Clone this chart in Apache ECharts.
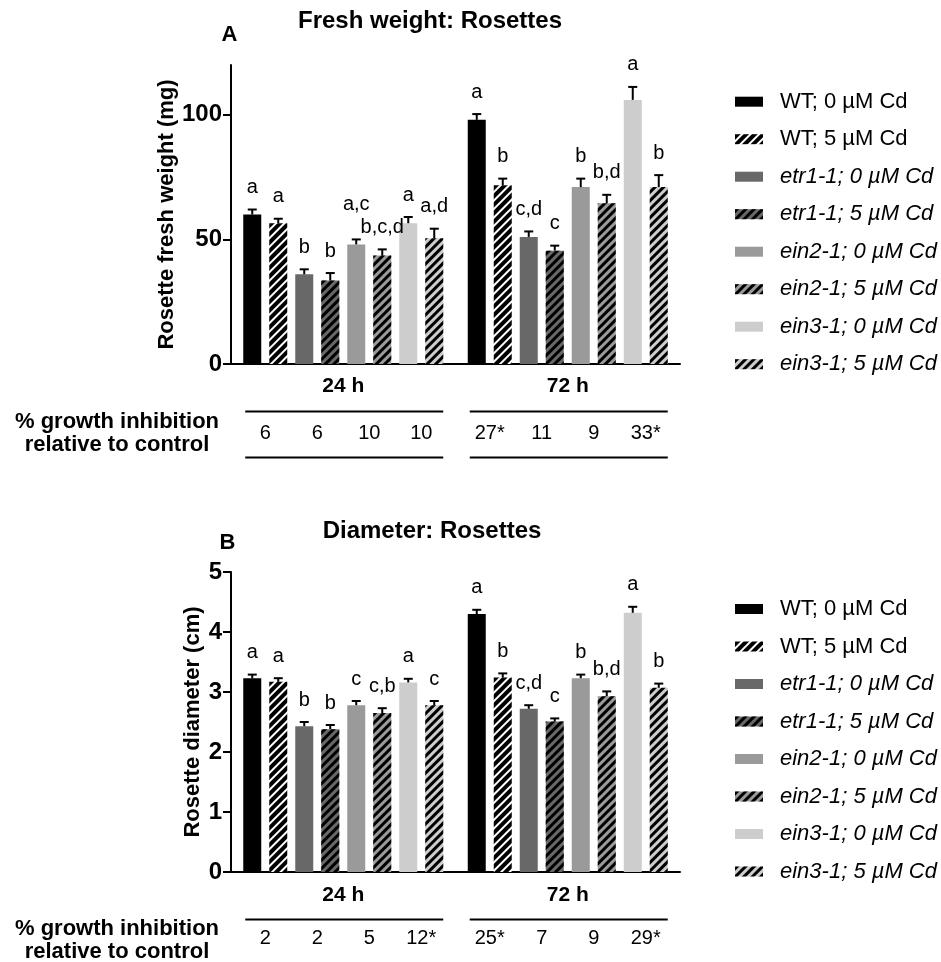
<!DOCTYPE html>
<html><head><meta charset="utf-8">
<script src="https://cdn.jsdelivr.net/npm/echarts@6/dist/echarts.min.js"></script>
<style>html,body{margin:0;padding:0;background:#fff}#c{width:941px;height:962px}</style>
</head><body><div id="c"></div>
<script>
// ---------- DATA ----------
const categories = ['24 h', '72 h'];
const seriesNames = ['WT; 0 µM Cd', 'WT; 5 µM Cd', 'etr1-1; 0 µM Cd', 'etr1-1; 5 µM Cd',
  'ein2-1; 0 µM Cd', 'ein2-1; 5 µM Cd', 'ein3-1; 0 µM Cd', 'ein3-1; 5 µM Cd'];

// Panel A: fresh weight (mg), order = seriesNames
const fwMean24 = [60, 56.5, 36, 33.5, 48, 43.5, 56.5, 50.5];
const fwMean72 = [98, 71.7, 51, 45.5, 71, 64.5, 106, 71];
const fwErr24 = [2, 1.8, 2, 3, 2, 2.5, 2.5, 3.8];
const fwErr72 = [2.3, 2.7, 2.2, 2, 3.4, 3.4, 5.2, 4.8];
const fwLetters24 = ['a', 'a', 'b', 'b', 'a,c', 'b,c,d', 'a', 'a,d'];
const fwLetters72 = ['a', 'b', 'c,d', 'c', 'b', 'b,d', 'a', 'b'];
const fwInhib24 = ['6', '6', '10', '10'];
const fwInhib72 = ['27*', '11', '9', '33*'];

// Panel B: diameter (cm)
const diaMean24 = [3.23, 3.17, 2.43, 2.38, 2.78, 2.65, 3.16, 2.78];
const diaMean72 = [4.30, 3.24, 2.72, 2.51, 3.23, 2.93, 4.32, 3.07];
const diaErr24 = [0.06, 0.06, 0.07, 0.07, 0.07, 0.08, 0.06, 0.07];
const diaErr72 = [0.07, 0.07, 0.06, 0.05, 0.06, 0.08, 0.10, 0.07];
const diaLetters24 = ['a', 'a', 'b', 'b', 'c', 'c,b', 'a', 'c'];
const diaLetters72 = ['a', 'b', 'c,d', 'c', 'b', 'b,d', 'a', 'b'];
const diaInhib24 = ['2', '2', '5', '12*'];
const diaInhib72 = ['25*', '7', '9', '29*'];

const fwTicks = {min: 0, max: 120, interval: 50};
const diaTicks = {min: 0, max: 5, interval: 1};

// ---------- STYLE ----------
const FONT = 'Liberation Sans, Arial, Helvetica, sans-serif';
const fills = ['#000000', '#ffffff', '#686868', '#686868', '#9a9a9a', '#9a9a9a', '#cdcdcd', '#cdcdcd'];
const hatched = [false, true, false, true, false, true, false, true];
const hatchDash = [null, [4, 2], null, [3, 3], null, [3, 3], null, [3, 3]];
const BAR_W = 18, BAR_STEP = 26, CAP = 4.5;
const LETTER_LIFT = 12;
const extraLift = {'0-0-4': 13};  // panel-cat-series : extra px to avoid overlap

function itemStyleFor(i) {
  const st = {color: fills[i]};
  if (hatched[i]) {
    st.decal = {symbol: 'rect', symbolSize: 1, dashArrayX: [1, 0], dashArrayY: hatchDash[i],
      rotation: -Math.PI / 4, color: '#000'};
  }
  return st;
}

function barSeries(panel, m24, m72) {
  return seriesNames.map((n, i) => ({
    type: 'bar', name: n, xAxisIndex: panel, yAxisIndex: panel,
    data: [m24[i], m72[i]], barWidth: BAR_W, barGap: ((BAR_STEP - BAR_W) / BAR_W * 100) + '%',
    itemStyle: itemStyleFor(i), silent: true
  }));
}

function errSeries(panel, m24, m72, e24, e72, l24, l72) {
  const data = [];
  const letters = [];
  [[m24, e24, l24], [m72, e72, l72]].forEach((g, c) => {
    g[0].forEach((v, s) => { data.push([c, s, v, g[1][s]]); letters.push(g[2][s]); });
  });
  return {
    type: 'custom', name: 'err' + panel, xAxisIndex: panel, yAxisIndex: panel, silent: true,
    encode: {x: 0, y: 2}, data, z: 5, clip: false,
    renderItem(params, api) {
      const c = api.value(0), s = api.value(1), v = api.value(2), e = api.value(3);
      const b = api.coord([c, v]); const t = api.coord([c, v + e]);
      const x = b[0] + (s - 3.5) * BAR_STEP;
      const lift = LETTER_LIFT + (extraLift[panel + '-' + c + '-' + s] || 0);
      return {type: 'group', children: [
        {type: 'line', shape: {x1: x, y1: b[1], x2: x, y2: t[1]}, style: {stroke: '#000', lineWidth: 2}},
        {type: 'line', shape: {x1: x - CAP, y1: t[1], x2: x + CAP, y2: t[1]}, style: {stroke: '#000', lineWidth: 2}},
        {type: 'text', style: {text: letters[params.dataIndex], x: x, y: t[1] - lift,
          textAlign: 'center', textVerticalAlign: 'bottom', font: '20px ' + FONT, fill: '#000'}}
      ]};
    }
  };
}

function tableSeries(panel, i24, i72, numOffset) {
  const vals = [i24, i72];
  return {
    type: 'custom', name: 'table' + panel, xAxisIndex: panel, yAxisIndex: panel, silent: true,
    encode: {x: 0, y: 1}, data: [[0, 0], [1, 0]], clip: false,
    renderItem(params, api) {
      const c = api.value(0);
      const p = api.coord([c, 0]);
      const cx = p[0], ay = p[1];
      const ch = [
        {type: 'line', shape: {x1: cx - 98, y1: ay + 47.5, x2: cx + 100, y2: ay + 47.5}, style: {stroke: '#000', lineWidth: 2}},
        {type: 'line', shape: {x1: cx - 98, y1: ay + 93.5, x2: cx + 100, y2: ay + 93.5}, style: {stroke: '#000', lineWidth: 2}}
      ];
      vals[c].forEach((t, k) => ch.push({type: 'text', style: {text: t, x: cx + (k - 1.5) * 52, y: ay + numOffset,
        textAlign: 'center', textVerticalAlign: 'middle', font: '20px ' + FONT, fill: '#000'}}));
      return {type: 'group', children: ch};
    }
  };
}

const axisLineStyle = {color: '#000', width: 2};
function xAxisFor(panel, margin) {
  return {type: 'category', gridIndex: panel, data: categories,
    axisLine: {lineStyle: axisLineStyle}, axisTick: {alignWithLabel: true, length: 7, lineStyle: axisLineStyle},
    axisLabel: {margin, fontSize: 21, fontWeight: 'bold', fontFamily: FONT, color: '#000'}};
}
function yAxisFor(panel, ticks, name, gap, showMax) {
  return {type: 'value', gridIndex: panel, min: ticks.min, max: ticks.max, interval: ticks.interval,
    name, nameLocation: 'middle', nameGap: gap,
    nameTextStyle: {fontSize: 22, fontWeight: 'bold', fontFamily: FONT, color: '#000'},
    axisLine: {show: true, lineStyle: axisLineStyle}, axisTick: {show: true, length: 8, lineStyle: axisLineStyle},
    splitLine: {show: false}, axisLabel: {margin: 9, fontSize: 24, fontWeight: 'bold', fontFamily: FONT, color: '#000', showMaxLabel: showMax}};
}

const legendData = seriesNames.map((n, i) => ({name: n, textStyle: {fontStyle: i < 2 ? 'normal' : 'italic'}}));
function legendFor(top) {
  return {data: legendData, orient: 'vertical', left: 735, top, itemWidth: 28, itemHeight: 10, itemGap: 15.5,
    padding: 0, selectedMode: false, icon: 'rect',
    textStyle: {fontSize: 22, fontFamily: FONT, color: '#000', lineHeight: 22, padding: [0, 0, 0, 12]}};
}

const chart = echarts.init(document.getElementById('c'), null, {renderer: 'canvas'});
chart.setOption({
  animation: false,
  backgroundColor: '#fff',
  grid: [
    {left: 231, top: 65, width: 449, height: 299},
    {left: 231, top: 572, width: 449, height: 300}
  ],
  xAxis: [xAxisFor(0, 12), xAxisFor(1, 13)],
  yAxis: [yAxisFor(0, fwTicks, 'Rosette fresh weight (mg)', 42, false),
          yAxisFor(1, diaTicks, 'Rosette diameter (cm)', 27, true)],
  legend: [legendFor(90.7), legendFor(598)],
  graphic: [
    {type: 'text', x: 430, y: 21, style: {text: 'Fresh weight: Rosettes', font: 'bold 24px ' + FONT, fill: '#000', textAlign: 'center', textVerticalAlign: 'middle'}},
    {type: 'text', x: 229.5, y: 35, style: {text: 'A', font: 'bold 22px ' + FONT, fill: '#000', textAlign: 'center', textVerticalAlign: 'middle'}},
    {type: 'text', x: 432, y: 531, style: {text: 'Diameter: Rosettes', font: 'bold 24px ' + FONT, fill: '#000', textAlign: 'center', textVerticalAlign: 'middle'}},
    {type: 'text', x: 227.5, y: 543, style: {text: 'B', font: 'bold 22px ' + FONT, fill: '#000', textAlign: 'center', textVerticalAlign: 'middle'}},
    {type: 'text', x: 117, y: 433, style: {text: '% growth inhibition\nrelative to control', font: 'bold 22px ' + FONT, fill: '#000', textAlign: 'center', textVerticalAlign: 'middle', lineHeight: 23}},
    {type: 'text', x: 117, y: 940, style: {text: '% growth inhibition\nrelative to control', font: 'bold 22px ' + FONT, fill: '#000', textAlign: 'center', textVerticalAlign: 'middle', lineHeight: 23}}
  ],
  series: [
    ...barSeries(0, fwMean24, fwMean72),
    errSeries(0, fwMean24, fwMean72, fwErr24, fwErr72, fwLetters24, fwLetters72),
    tableSeries(0, fwInhib24, fwInhib72, 69),
    ...barSeries(1, diaMean24, diaMean72),
    errSeries(1, diaMean24, diaMean72, diaErr24, diaErr72, diaLetters24, diaLetters72),
    tableSeries(1, diaInhib24, diaInhib72, 66)
  ]
});
</script></body></html>
